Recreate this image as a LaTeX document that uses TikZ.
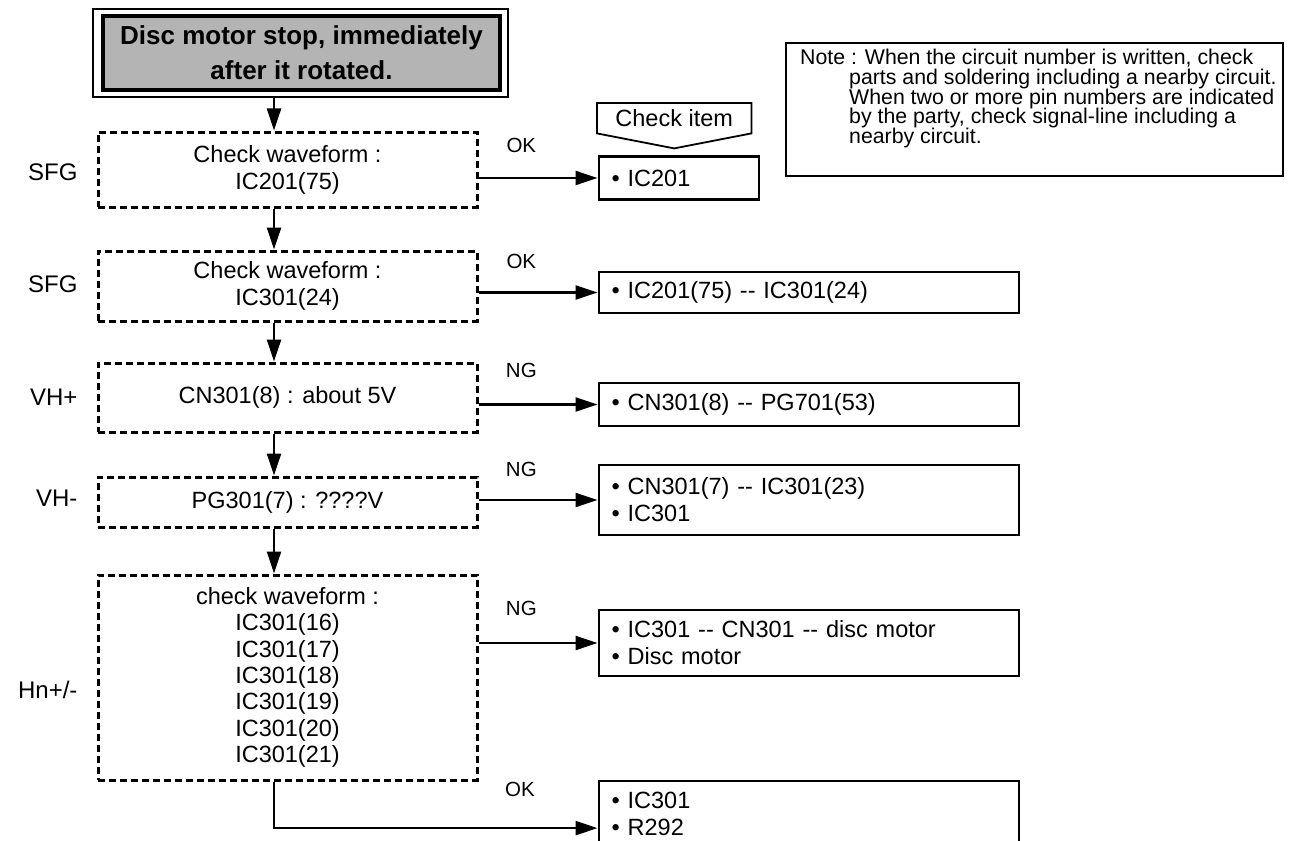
\documentclass[tikz,border=0pt]{standalone}
\usepackage{fontspec}
\setmainfont{Liberation Sans}
\usepackage{xcolor}
\usepackage{tikz}
\usetikzlibrary{arrows.meta,positioning}
\definecolor{titlegray}{RGB}{180,180,180}
\newcommand{\dsh}{-\kern0pt-}
\lineskiplimit=-20pt

\begin{document}
\begin{tikzpicture}[
    x=1pt, y=-1pt,
    every node/.style={font=\fontsize{23.5}{27}\selectfont},
    chkbox/.style={draw, line width=3pt, dash pattern=on 7pt off 4pt,
        minimum width=379pt, align=center},
    resbox/.style={draw, line width=2.2pt, anchor=west, align=left,
        inner xsep=13pt, inner ysep=0pt},
    arr/.style={line width=2.4pt, -{Triangle[length=22pt,width=14pt]}},
    lbl/.style={font=\fontsize{20.5}{24}\selectfont},
    side/.style={anchor=east, font=\fontsize{24}{28}\selectfont}
]
\useasboundingbox (0,0) rectangle (1305,840);
\coordinate (spine) at (274,0);

% title
\node[draw, line width=2.4pt, minimum width=415pt, minimum height=88pt] (tframe) at (300.5,53) {};
\node[draw, line width=4pt, fill=titlegray, minimum width=397pt, minimum height=74pt,
    align=center, font=\fontsize{26}{35}\selectfont\bfseries] (title) at (301.5,53)
    {Disc motor stop, immediately\\after it rotated.};

% note
\node[draw, line width=2.2pt, anchor=north west, minimum width=497pt, minimum height=133pt,
    inner sep=0pt] (note) at (785,42) {};
\node[anchor=north west, align=left, inner sep=0pt,
    font=\fontsize{21.3}{19.7}\selectfont] (notetext) at (800,49)
    {Note : When the circuit number is written, check\\
     \hspace*{49pt}parts and soldering including a nearby circuit.\\
     \hspace*{49pt}When two or more pin numbers are indicated\\
     \hspace*{49pt}by the party, check signal-line including a\\
     \hspace*{49pt}nearby circuit.};

% check item
\node[anchor=north west, minimum width=154pt, minimum height=30pt, inner sep=0pt] (chkitem) at (597,103) {Check item};
\draw[line width=1.8pt] (chkitem.north west) -- (chkitem.north east) -- (chkitem.south east)
    -- ([yshift=-15pt]chkitem.south) -- (chkitem.south west) -- cycle;

% check boxes
\node[chkbox, minimum height=75pt] (b1) at (287.5,169.5) {Check waveform :\\IC201(75)};
\node[chkbox, minimum height=70pt] (b2) at (287.5,286) {Check waveform :\\IC301(24)};
\node[chkbox, minimum height=69pt] (b3) at (287.5,397.5) {CN301(8) : about 5V};
\node[chkbox, minimum height=50pt] (b4) at (287.5,502) {PG301(7) : ????V};
\node[chkbox, minimum height=205pt, font=\fontsize{23.5}{26.3}\selectfont] (b5) at (287.5,677.5)
    {check waveform :\\IC301(16)\\IC301(17)\\IC301(18)\\IC301(19)\\IC301(20)\\IC301(21)};

% signal names
\node[side] (sfga) at (81,172) {SFG};
\node[side] (sfgb) at (81,284) {SFG};
\node[side] (vhp) at (81,397) {VH+};
\node[side] (vhm) at (81,498) {VH-};
\node[side] (hn) at (81,690) {Hn+/-};

% results
\node[resbox, text width=134pt, minimum height=43pt] (r1) at (597.5,178) {• IC201};
\node[resbox, text width=394pt, minimum height=41pt] (r2) at (597.5,292.5) {• IC201(75) \dsh{} IC301(24)};
\node[resbox, text width=394pt, minimum height=43pt] (r3) at (597.5,404.5) {• CN301(8) \dsh{} PG701(53)};
\node[resbox, text width=394pt, minimum height=70pt] (r4) at (597.5,500) {• CN301(7) \dsh{} IC301(23)\\• IC301};
\node[resbox, text width=394pt, minimum height=66pt] (r5) at (597.5,643) {• IC301 \dsh{} CN301 \dsh{} disc motor\\• Disc motor};
\node[resbox, text width=394pt, minimum height=66pt, anchor=north west] (r6) at (597.5,780) {• IC301\\• R292};

% flow
\draw[arr] (tframe.south -| spine) -- (b1.north -| spine);
\draw[arr] (b1.south -| spine) -- (b2.north -| spine);
\draw[arr] (b2.south -| spine) -- (b3.north -| spine);
\draw[arr] (b3.south -| spine) -- (b4.north -| spine);
\draw[arr] (b4.south -| spine) -- (b5.north -| spine);

\draw[arr] (b1.east |- r1.west) -- (r1.west) node[lbl, pos=.36, yshift=33pt] {OK};
\draw[arr] (b2.east |- r2.west) -- (r2.west) node[lbl, pos=.36, yshift=31pt] {OK};
\draw[arr] (b3.east |- r3.west) -- (r3.west) node[lbl, pos=.36, yshift=34pt] {NG};
\draw[arr] (b4.east |- r4.west) -- (r4.west) node[lbl, pos=.36, yshift=31pt] {NG};
\draw[arr] (b5.east |- r5.west) -- (r5.west) node[lbl, pos=.36, yshift=35pt] {NG};
\draw[arr] (b5.south -| spine) |- ([yshift=-14pt]r6.west) node[lbl, pos=.88, yshift=39pt] {OK};
\end{tikzpicture}
\end{document}
